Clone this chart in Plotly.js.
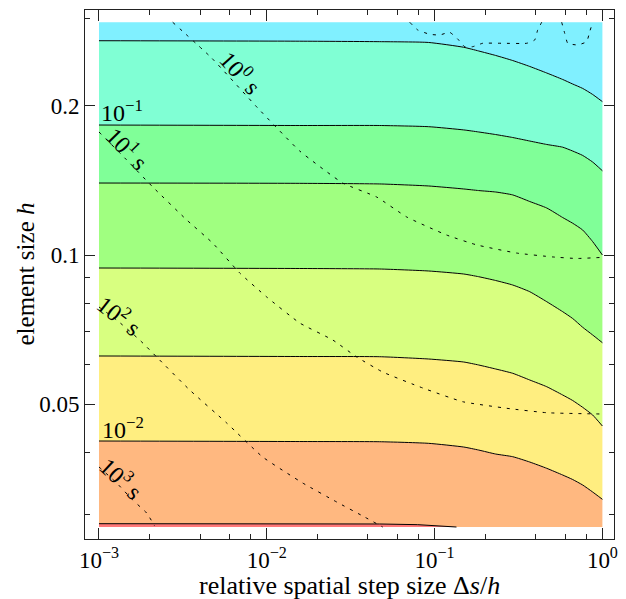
<!DOCTYPE html>
<html>
<head>
<meta charset="utf-8">
<script src="https://cdn.plot.ly/plotly-3.0.1.min.js"></script>
<style>
html,body{margin:0;padding:0;background:#fff;}
#chart{width:626px;height:599px;}
</style>
</head>
<body>
<div id="chart"></div>
<script>
// ---------- data ----------
// extent of the computed domain
const xEdge = [0.001, 1.0];
const hTop = 0.2948;
const hBot = 0.02826;

// shared abscissae (relative spatial step size) of the error contours
const xc = [0.001, 0.0157, 0.0471, 0.0922, 0.149, 0.183, 0.231, 0.292, 0.369, 0.466, 0.580, 0.665, 0.763, 0.875, 1.0];

// error contours (element size h), from top to bottom
const errA = [0.2706, 0.2700, 0.2694, 0.2684, 0.2625, 0.2580, 0.2527, 0.2468, 0.2401, 0.2329, 0.2260, 0.2213, 0.2168, 0.2108, 0.2039];
const errB = [0.1829, 0.1825, 0.1825, 0.1815, 0.1788, 0.1771, 0.1750, 0.1726, 0.1698, 0.1671, 0.1650, 0.1621, 0.1588, 0.1540, 0.1479]; // 1e-1
const errC = [0.1397, 0.1395, 0.1391, 0.1378, 0.1359, 0.1349, 0.1340, 0.1322, 0.1282, 0.1244, 0.1190, 0.1159, 0.1123, 0.1064, 0.1000];
const errD = [0.09414, 0.09392, 0.09370, 0.09284, 0.09155, 0.09041, 0.08883, 0.08699, 0.08432, 0.08049, 0.07684, 0.07445, 0.07147, 0.06896, 0.06653];
const errE = [0.06255, 0.06240, 0.06234, 0.06168, 0.06083, 0.05999, 0.05889, 0.05772, 0.05595, 0.05423, 0.05218, 0.05087, 0.04928, 0.04755, 0.04518];
const errF = [0.04214, 0.04204, 0.04200, 0.04169, 0.04098, 0.04041, 0.03967, 0.03918, 0.03822, 0.03712, 0.03598, 0.03524, 0.03435, 0.03325, 0.03214]; // 1e-2
const errGx = [0.001, 0.0157, 0.0471, 0.0793, 0.104, 0.135];
const errGy = [0.02870, 0.02870, 0.02866, 0.02857, 0.02839, 0.02826];

// computing-time contours (dashed)
const t0x = [0.002749, 0.004693, 0.008826, 0.01571, 0.02834, 0.04519, 0.06823, 0.1181, 0.1781, 0.3085, 0.5057, 0.7028, 1.0];
const t0y = [0.2948, 0.2497, 0.1980, 0.1621, 0.1397, 0.1309, 0.1193, 0.1097, 0.1048, 0.1009, 0.0991, 0.0984, 0.0989]; // 1e0 s
const t1x = [0.001, 0.001463, 0.002089, 0.003331, 0.004759, 0.006897, 0.009986, 0.01571, 0.02471, 0.03434, 0.04906, 0.08494, 0.1471, 0.2690, 0.4657, 1.0];
const t1y = [0.1771, 0.1555, 0.1372, 0.1177, 0.1057, 0.09198, 0.08228, 0.07291, 0.06738, 0.06226, 0.05806, 0.05391, 0.05058, 0.04906, 0.04806, 0.04777]; // 1e1 s
const t2x = [0.001, 0.001275, 0.001748, 0.002207, 0.003471, 0.005768, 0.009454, 0.01637, 0.02610, 0.03832, 0.04906];
const t2y = [0.07854, 0.07393, 0.06738, 0.06226, 0.05341, 0.04582, 0.03912, 0.03467, 0.03174, 0.02960, 0.02826]; // 1e2 s
const t3x = [0.001, 0.001275, 0.001588, 0.001924, 0.002147];
const t3y = [0.03735, 0.03467, 0.03204, 0.03016, 0.02839]; // 1e3 s
const tm1ax = [0.0711, 0.0793, 0.0935, 0.1073, 0.1230, 0.1373, 0.1511, 0.1687, 0.1935, 0.2545, 0.3539, 0.3949, 0.4116, 0.4347];
const tm1ay = [0.2948, 0.2845, 0.2788, 0.2779, 0.2814, 0.2728, 0.2632, 0.2632, 0.2674, 0.2674, 0.2674, 0.2715, 0.2845, 0.2948];
const tm1bx = [0.5720, 0.5961, 0.6212, 0.7124, 0.8060, 0.8401, 0.8753];
const tm1by = [0.2948, 0.2801, 0.2674, 0.2653, 0.2694, 0.2822, 0.2948];

// tick labels
const xTickVals = [0.001, 0.01, 0.1, 1];
const xTickText = ['10<sup>−3</sup>', '10<sup>−2</sup>', '10<sup>−1</sup>', '10<sup>0</sup>'];
const xMinor = [0.002, 0.004, 0.006, 0.008, 0.02, 0.04, 0.06, 0.08, 0.2, 0.4, 0.6, 0.8];
const yTickVals = [0.05, 0.1, 0.2];
const yTickText = ['0.05', '0.1', '0.2'];
const yMinor = [0.03, 0.04, 0.06, 0.07, 0.08, 0.09, 0.3];

// ---------- styling ----------
const bandColors = ['#80F0FF', '#80FFD4', '#80FF98', '#A0FF80', '#D8FF80', '#FFEE80', '#FFB880', '#FF7878'];
const FONT = 'Liberation Serif, Times New Roman, serif';
const lineBlack = {color: '#000', width: 1, shape: 'spline', smoothing: 0.5};
const dashed = {color: '#000', width: 1, dash: '3px,6px', shape: 'spline', smoothing: 0.4};

const traces = [];
traces.push({x: xEdge, y: [hTop, hTop], mode: 'lines', line: {width: 0}, hoverinfo: 'skip'});
const errs = [errA, errB, errC, errD, errE, errF];
errs.forEach((e, i) => {
  traces.push({x: xc, y: e, mode: 'lines', line: lineBlack, fill: 'tonexty', fillcolor: bandColors[i], hoverinfo: 'skip'});
});
traces.push({x: xEdge, y: [hBot, hBot], mode: 'lines', line: {width: 0}, fill: 'tonexty', fillcolor: bandColors[6], hoverinfo: 'skip'});
traces.push({x: errGx.concat([xEdge[0]]), y: errGy.concat([hBot]), mode: 'lines', line: {width: 0}, fill: 'toself', fillcolor: bandColors[7], hoverinfo: 'skip'});
traces.push({x: errGx, y: errGy, mode: 'lines', line: {color: '#000', width: 1}, hoverinfo: 'skip'});
[[t0x, t0y], [t1x, t1y], [t2x, t2y], [t3x, t3y], [tm1ax, tm1ay], [tm1bx, tm1by]].forEach(p => {
  traces.push({x: p[0], y: p[1], mode: 'lines', line: dashed, hoverinfo: 'skip'});
});

const axisCommon = {
  type: 'log', showgrid: false, zeroline: false,
  showline: true, linecolor: '#222', linewidth: 1, mirror: 'allticks',
  ticks: 'inside', ticklen: 11, tickwidth: 1, tickcolor: '#222',
  tickfont: {family: FONT, size: 23, color: '#000'},
  tickmode: 'array'
};

const ann = (text, x, y, angle, extra) => Object.assign({
  text: text, xref: 'paper', yref: 'paper', x: x, y: y, showarrow: false,
  textangle: angle, xanchor: 'center', yanchor: 'middle',
  font: {family: FONT, size: 24, color: '#000'}
}, extra || {});

const layout = {
  width: 626, height: 599,
  margin: {l: 85, r: 12, t: 10, b: 60},
  paper_bgcolor: '#fff', plot_bgcolor: '#fff',
  showlegend: false,
  xaxis: Object.assign({}, axisCommon, {
    range: [-3.0834, 0.0691], tickvals: xTickVals, ticktext: xTickText,
    minor: {tickmode: 'array', tickvals: xMinor, ticks: 'inside', ticklen: 5, tickwidth: 1, tickcolor: '#222', showgrid: false}
  }),
  yaxis: Object.assign({}, axisCommon, {
    range: [-1.573, -0.5057], tickvals: yTickVals, ticktext: yTickText,
    ticklen: 10,
    minor: {tickmode: 'array', tickvals: yMinor, ticks: 'inside', ticklen: 5, tickwidth: 1, tickcolor: '#222', showgrid: false}
  }),
  annotations: [
    ann('10<sup>−1</sup>', 0.069, 0.809, 0),
    ann('10<sup>−2</sup>', 0.071, 0.210, 0),
    ann('10<sup>0</sup> s', 0.2958, 0.8819, 48),
    ann('10<sup>1</sup> s', 0.0822, 0.7391, 46),
    ann('10<sup>2</sup> s', 0.0671, 0.4234, 38),
    ann('10<sup>3</sup> s', 0.0690, 0.1163, 43),
    ann('relative spatial step size Δ<i>s</i>/<i>h</i>', 0.5, -0.088, 0, {font: {family: FONT, size: 26, color: '#000'}}),
    ann('element size <i>h</i>', -0.1134, 0.5, -90, {font: {family: FONT, size: 25, color: '#000'}})
  ]
};

Plotly.newPlot('chart', traces, layout, {staticPlot: true, displayModeBar: false});
</script>
</body>
</html>
